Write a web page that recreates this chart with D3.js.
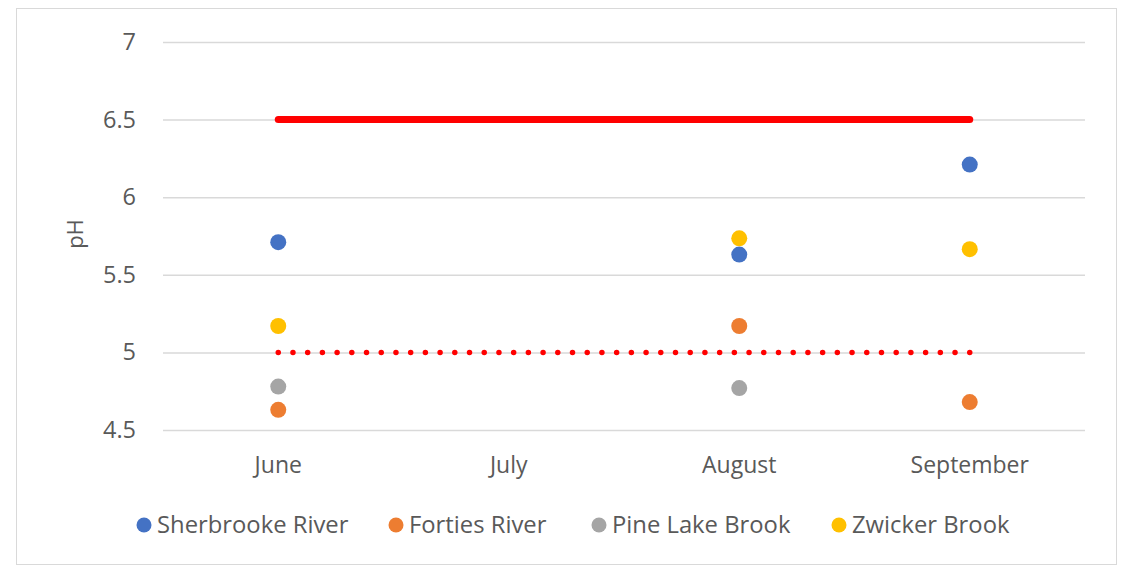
<!DOCTYPE html>
<html>
<head>
<meta charset="utf-8">
<script src="https://cdn.jsdelivr.net/npm/d3@7"></script>
<style>
  body { margin: 0; background: #fff; }
  .chart text { font-family: "Open Sans", Lato, sans-serif; fill: #595959; }
</style>
</head>
<body>
<div class="chart"></div>
<script>
// pH readings per month (null = no sample)
const months = ["June", "July", "August", "September"];
const sherbrooke = [5.71, null, 5.63, 6.21];
const forties = [4.63, null, 5.17, 4.68];
const pineLake = [4.78, null, 4.77, null];
const zwicker = [5.17, null, 5.735, 5.665];
const seriesNames = ["Sherbrooke River", "Forties River", "Pine Lake Brook", "Zwicker Brook"];
const seriesColors = ["#4472C4", "#ED7D31", "#A5A5A5", "#FFC000"];
const yTicks = [4.5, 5, 5.5, 6, 6.5, 7];
const upperLimit = 6.5, lowerLimit = 5;

const seriesValues = [sherbrooke, forties, pineLake, zwicker];
const W = 1121, H = 568;
const plot = {left: 163, right: 1085, top: 42, bottom: 430};

const svg = d3.select(".chart").append("svg")
    .attr("width", W)
    .attr("height", H);

// outer frame
svg.append("rect")
    .attr("x", 16.5).attr("y", 8.5)
    .attr("width", 1100).attr("height", 556)
    .attr("fill", "#fff")
    .attr("stroke", "#d9d9d9");

const x = d3.scaleBand()
    .domain(months)
    .range([plot.left, plot.right]);
const xc = m => x(m) + x.bandwidth() / 2;

const y = d3.scaleLinear()
    .domain([4.5, 7])
    .range([plot.bottom, plot.top]);

// y axis + grid
const yAxis = d3.axisLeft(y)
    .tickValues(yTicks)
    .tickFormat(d3.format("~g"))
    .tickSize(-(plot.right - plot.left))
    .tickPadding(27);

svg.append("g")
    .attr("class", "axis y-axis")
    .attr("transform", "translate(" + plot.left + ",0)")
    .call(yAxis)
    .call(g => g.select(".domain").remove())
    .call(g => g.selectAll("line").attr("stroke", "#d9d9d9").attr("stroke-width", 1.5))
    .call(g => g.selectAll("text").attr("font-size", 23.5).attr("fill", "#595959"));

// x axis
const xAxis = d3.axisBottom(x).tickSize(0).tickPadding(27);
svg.append("g")
    .attr("class", "axis x-axis")
    .attr("transform", "translate(0," + plot.bottom + ")")
    .call(xAxis)
    .call(g => g.select(".domain").remove())
    .call(g => g.selectAll("text").attr("font-size", 23).attr("fill", "#595959"));

// axis title
svg.append("text")
    .attr("transform", "translate(83,234) rotate(-90)")
    .attr("text-anchor", "middle")
    .attr("font-size", 22)
    .text("pH");

// limit lines
const first = months[0], last = months[months.length - 1];
svg.append("line")
    .attr("x1", xc(first)).attr("x2", xc(last))
    .attr("y1", y(upperLimit)).attr("y2", y(upperLimit))
    .attr("stroke", "#FF0000")
    .attr("stroke-width", 7)
    .attr("stroke-linecap", "round");

// dotted line: spacing chosen so a dot falls on both ends
const span = xc(last) - xc(first);
const gap = span / Math.round(span / 14.7);
svg.append("line")
    .attr("x1", xc(first)).attr("x2", xc(last) + 0.5)
    .attr("y1", y(lowerLimit)).attr("y2", y(lowerLimit))
    .attr("stroke", "#FF0000")
    .attr("stroke-width", 5.5)
    .attr("stroke-linecap", "round")
    .attr("stroke-dasharray", "0," + gap);

// points
seriesValues.forEach((vals, i) => {
    const pts = months.map((m, j) => ({m: m, v: vals[j]})).filter(d => d.v != null);
    svg.append("g")
        .selectAll("circle")
        .data(pts)
        .enter()
        .append("circle")
        .attr("cx", d => xc(d.m))
        .attr("cy", d => y(d.v))
        .attr("r", 8)
        .attr("fill", seriesColors[i]);
});

// legend
const legendX = [144, 396, 599, 839];
const legend = svg.append("g").attr("class", "legend");
seriesNames.forEach((name, i) => {
    const g = legend.append("g").attr("transform", "translate(" + legendX[i] + ",525)");
    g.append("circle").attr("r", 7.5).attr("fill", seriesColors[i]);
    g.append("text")
        .attr("x", 13)
        .attr("dy", "0.35em")
        .attr("font-size", 23.8)
        .text(name);
});
</script>
</body>
</html>
